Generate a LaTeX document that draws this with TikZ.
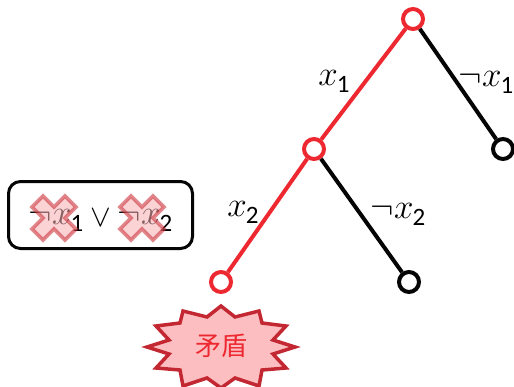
\RequirePackage{fix-cm}
\documentclass[tikz,border=0pt]{standalone}
\usepackage{fontspec}
\newfontfamily\cjk{Noto Sans CJK SC}
\newfontfamily\carl{Carlito}
\newcommand{\lit}[2]{$x$\kern-1pt\raisebox{-0.2em}{\fontsize{25}{25}\carl #2}}
\newcommand{\nlit}[2]{$\neg x$\kern-1pt\raisebox{-0.2em}{\fontsize{25}{25}\carl #2}}
\definecolor{rd}{RGB}{238,40,48}
\definecolor{bk}{RGB}{5,5,5}
\definecolor{burstb}{RGB}{195,40,50}
\definecolor{burstf}{RGB}{252,190,192}
\definecolor{crossb}{RGB}{200,40,50}
\definecolor{crossf}{RGB}{248,175,180}
\tikzset{
  vtx/.style={circle,draw=#1,fill=white,line width=4pt,minimum size=20pt,inner sep=0pt},
  edge/.style={draw=#1,line width=4pt},
  lit/.style={inner sep=0pt,font=\fontsize{35}{35}\selectfont,text=black},
  cross/.style={draw=crossb,fill=crossf,line width=3.6pt,opacity=.55,line join=miter}
}
\begin{document}
\begin{tikzpicture}[x=1pt,y=-1pt]
\useasboundingbox (0,0) rectangle (514,386);
\fill[white] (0,0) rectangle (514,386);
% tree
\node[vtx=rd] (root) at (413,19) {};
\node[vtx=rd] (a) at (314,149) {};
\node[vtx=bk] (b) at (503,149) {};
\node[vtx=rd] (c) at (221,282) {};
\node[vtx=bk] (d) at (409,282) {};
\draw[edge=rd] (root) -- (a);
\draw[edge=bk] (root) -- (b);
\draw[edge=rd] (a) -- (c);
\draw[edge=bk] (a) -- (d);
\node[lit] (l1) at (334,81) {\lit{x}{1}};
\node[lit] (l2) at (486,82) {\nlit{x}{1}};
\node[lit] (l3) at (243,212) {\lit{x}{2}};
\node[lit] (l4) at (398,214) {\nlit{x}{2}};
% clause box
\node[draw=bk,line width=3pt,rounded corners=12pt,fill=white,minimum width=184pt,minimum height=67pt,inner sep=0pt] (box) at (100.5,215) {};
\node[lit] (n1) at (56,220) {\nlit{x}{1}};
\node[inner sep=0pt,font=\fontsize{31}{31}\selectfont] (or) at (100.5,218) {$\vee$};
\node[lit] (n2) at (145,220) {\nlit{x}{2}};
\foreach \cx in {54,142}{
  \draw[cross,shift={(\cx,218)}] (0,-11)--(11,-22)--(22,-11)--(11,0)--(22,11)--(11,22)--(0,11)--(-11,22)--(-22,11)--(-11,0)--(-22,-11)--(-11,-22)--cycle;
}
% burst
\draw[draw=burstb,fill=burstf,line width=3.5pt,line join=miter]
 (221,306)--(235,317)--(259,311)--(262,323)--(286,326)--(273,340)--(295,347)--(273,354)--(286,368)--(262,370)--(259,386)--(235,378)--(221,388)--(207,378)--(183,386)--(180,370)--(156,368)--(169,354)--(147,347)--(169,340)--(156,326)--(180,323)--(183,311)--(207,317)--cycle;
\node[inner sep=0pt,text=rd,font=\fontsize{26}{26}\cjk] (t) at (221,346) {矛盾};
\end{tikzpicture}
\end{document}
